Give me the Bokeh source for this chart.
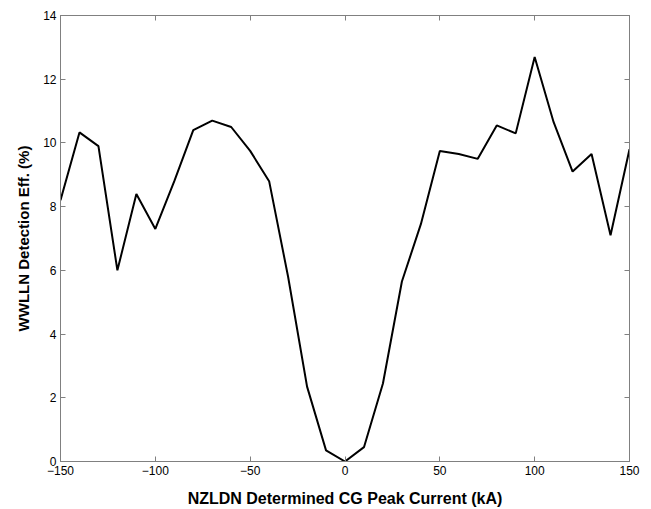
from bokeh.plotting import figure
from bokeh.models import LinearAxis, Range1d, FixedTicker
from bokeh.embed import file_html
from bokeh.resources import INLINE

peak_current = [-150, -140, -130, -120, -110, -100, -90, -80, -70, -60, -50, -40, -30, -20, -10,
                0, 10, 20, 30, 40, 50, 60, 70, 80, 90, 100, 110, 120, 130, 140, 150]
detection_eff = [8.2, 10.33, 9.9, 6.0, 8.4, 7.3, 8.8, 10.4, 10.7, 10.5, 9.75, 8.8, 5.8, 2.35, 0.35,
                 0.0, 0.45, 2.45, 5.65, 7.45, 9.75, 9.65, 9.5, 10.55, 10.3, 12.7, 10.65, 9.1, 9.65, 7.1, 9.8]
x_ticks = [-150, -100, -50, 0, 50, 100, 150]
y_ticks = [0, 2, 4, 6, 8, 10, 12, 14]

FONT = "Liberation Sans"
AX = "#808080"

p = figure(width=651, height=509, output_backend="svg", toolbar_location=None,
           x_range=Range1d(-150, 150), y_range=Range1d(0, 14),
           min_border_left=60, min_border_top=15, min_border_right=22, min_border_bottom=47)
p.xaxis.visible = False
p.yaxis.visible = False
p.grid.visible = False
p.outline_line_color = AX
p.outline_line_width = 1

def style(ax, labels=True):
    ax.axis_line_color = AX
    ax.major_tick_line_color = AX
    ax.major_tick_in = 5
    ax.major_tick_out = 0
    ax.minor_tick_line_color = None
    ax.major_label_text_font = FONT
    ax.major_label_text_font_size = "12px"
    ax.major_label_text_color = "black"
    ax.axis_label_text_font = FONT
    ax.axis_label_text_font_style = "bold"
    ax.axis_label_text_color = "black"
    if not labels:
        ax.major_label_text_font_size = "0px"
        ax.major_label_text_alpha = 0

xb = LinearAxis(ticker=FixedTicker(ticks=x_ticks), axis_label="NZLDN Determined CG Peak Current (kA)")
style(xb)
xb.axis_label_text_font_size = "16px"
xb.major_label_standoff = 4
xb.axis_label_standoff = 12
p.add_layout(xb, "below")

yl = LinearAxis(ticker=FixedTicker(ticks=y_ticks), axis_label="WWLLN Detection Eff. (%)")
style(yl)
yl.axis_label_text_font_size = "15px"
yl.major_label_standoff = 4
yl.axis_label_standoff = 8
p.add_layout(yl, "left")

xt = LinearAxis(ticker=FixedTicker(ticks=x_ticks))
style(xt, labels=False)
p.add_layout(xt, "above")

yr = LinearAxis(ticker=FixedTicker(ticks=y_ticks))
style(yr, labels=False)
p.add_layout(yr, "right")

p.line(peak_current, detection_eff, line_color="black", line_width=2)

open("out.html", "w").write(file_html(p, INLINE))
